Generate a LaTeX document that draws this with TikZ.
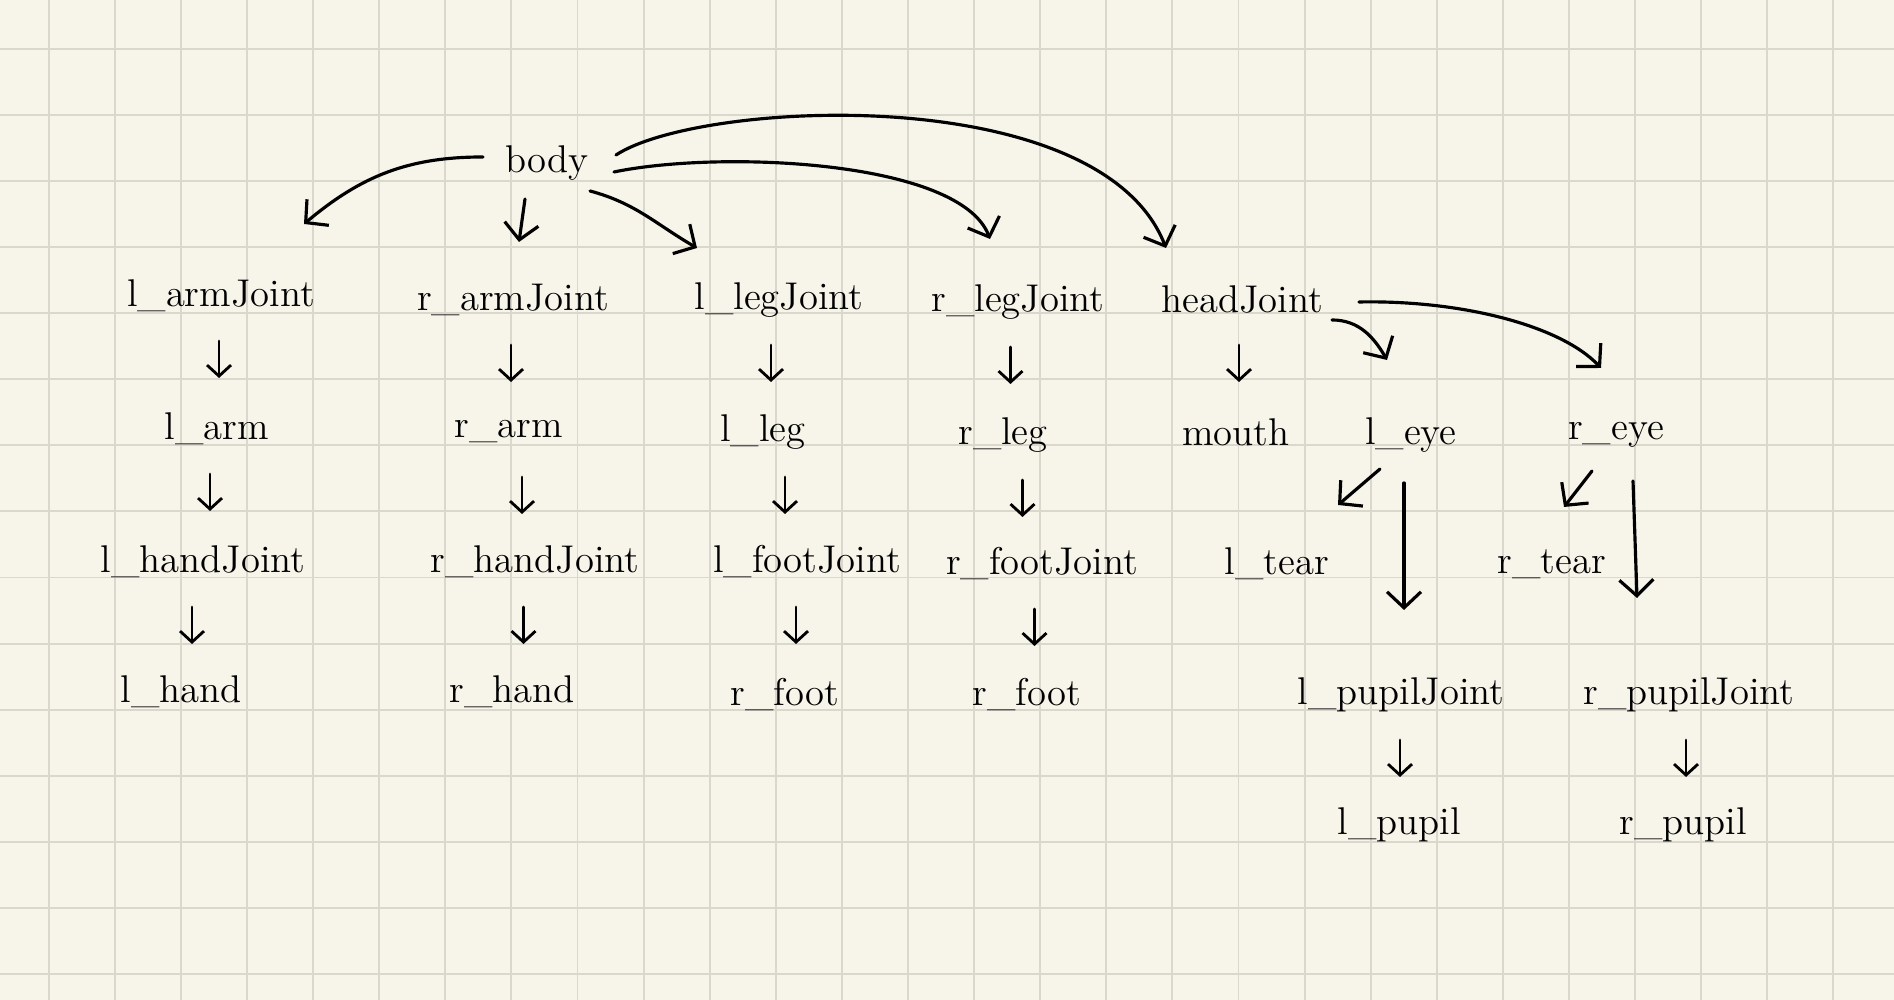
\documentclass[tikz,border=0pt]{standalone}
\usepackage{xcolor}
\definecolor{paper}{HTML}{F7F5EA}
\definecolor{gridline}{HTML}{DAD8CD}
\usepackage{tikz}
\usetikzlibrary{
  calc,
  arrows.meta
}
\tikzstyle{part}=[inner sep=0pt, font=\fontsize{11}{13}\selectfont]
\tikzstyle{bigarrow}=[-{Straight Barb[length=1.6mm,width=3.4mm]}, line width=0.9pt, line cap=round]
\tikzstyle{smallarrow}=[-{Straight Barb[length=1.1mm,width=2.4mm]}, line width=0.8pt, line cap=round]

\begin{document}
\begin{tikzpicture}
      \def\W{18.94};
      \def\H{10};
      \def\gap{0.661};
      \def\off{0.487};

      % 背景と方眼
      \fill[paper] (0,0) rectangle (\W,\H);
      \begin{scope}
        \clip (0,0) rectangle (\W,\H);
        \foreach \i in {0,...,27}
          \draw[gridline, line width=0.55pt] ({\off+\gap*\i},0) -- ++(0,\H);
        \foreach \j in {0,...,14}
          \draw[gridline, line width=0.55pt] (0,{\H-\off-\gap*\j}) -- ++(\W,0);
      \end{scope}
      \useasboundingbox (0,0) rectangle (\W,\H);

      % ルート
      \node[part] (body) at (5.47,8.37) {body};

      % 1段目
      \node[part] (lArmJ) at (2.21,7.04) {l\_armJoint};
      \node[part] (rArmJ) at (5.13,7.00) {r\_armJoint};
      \node[part] (lLegJ) at (7.79,7.00) {l\_legJoint};
      \node[part] (rLegJ) at (10.18,6.98) {r\_legJoint};
      \node[part] (headJ) at (12.42,7.00) {headJoint};

      % 2段目
      \node[part] (lArm) at (2.17,5.71) {l\_arm};
      \node[part] (rArm) at (5.09,5.68) {r\_arm};
      \node[part] (lLeg) at (7.63,5.68) {l\_leg};
      \node[part] (rLeg) at (10.03,5.65) {r\_leg};
      \node[part] (mouth) at (12.36,5.68) {mouth};
      \node[part] (lEye) at (14.11,5.65) {l\_eye};
      \node[part] (rEye) at (16.16,5.65) {r\_eye};

      % 3段目
      \node[part] (lHandJ) at (2.03,4.38) {l\_handJoint};
      \node[part] (rHandJ) at (5.35,4.38) {r\_handJoint};
      \node[part] (lFootJ) at (8.07,4.38) {l\_footJoint};
      \node[part] (rFootJ) at (10.42,4.36) {r\_footJoint};
      \node[part] (lTear) at (12.77,4.36) {l\_tear};
      \node[part] (rTear) at (15.52,4.36) {r\_tear};

      % 4段目
      \node[part] (lHand) at (1.81,3.08) {l\_hand};
      \node[part] (rHand) at (5.12,3.08) {r\_hand};
      \node[part] (rFootA) at (7.85,3.05) {r\_foot};
      \node[part] (rFootB) at (10.27,3.05) {r\_foot};
      \node[part] (lPupilJ) at (14.01,3.05) {l\_pupilJoint};
      \node[part] (rPupilJ) at (16.89,3.05) {r\_pupilJoint};

      % 5段目
      \node[part] (lPupil) at (13.99,1.75) {l\_pupil};
      \node[part] (rPupil) at (16.83,1.75) {r\_pupil};

      % 縦の短い矢印
      \foreach \a/\b in {lArmJ/lArm, lArm/lHandJ, lHandJ/lHand,
                         rArmJ/rArm, rArm/rHandJ, rHandJ/rHand,
                         lLegJ/lLeg, lLeg/lFootJ, lFootJ/rFootA,
                         rLegJ/rLeg, rLeg/rFootJ, rFootJ/rFootB,
                         headJ/mouth, lPupilJ/lPupil, rPupilJ/rPupil}
        \draw[smallarrow] ($(\a.center)!.5!(\a.center -| \b.center)$) ++(0,-0.45) -- ++(0,-0.37);

      % bodyからの矢印
      \draw[bigarrow] ([shift={(-0.64,0.06)}]body.center) to[out=180,in=40] ([shift={(0.83,0.72)}]lArmJ.center);
      \draw[bigarrow] ([shift={(-0.22,-0.36)}]body.center) -- ([shift={(0.06,0.58)}]rArmJ.center);
      \draw[bigarrow] ([shift={(0.43,-0.28)}]body.center) to[out=-15,in=150] ([shift={(-0.82,0.52)}]lLegJ.center);
      \draw[bigarrow] ([shift={(0.67,-0.09)}]body.center) .. controls (7.2,8.5) and (9.6,8.4) .. ([shift={(-0.28,0.63)}]rLegJ.center);
      \draw[bigarrow] ([shift={(0.69,0.08)}]body.center) .. controls (7.0,9.0) and (11.0,9.2) .. ([shift={(-0.76,0.52)}]headJ.center);

      % headJointからの矢印
      \draw[bigarrow] ([shift={(0.90,-0.20)}]headJ.center) to[out=0,in=120] ([shift={(-0.24,0.75)}]lEye.center);
      \draw[bigarrow] ([shift={(1.17,-0.02)}]headJ.center) .. controls (14.6,7.0) and (15.6,6.75) .. ([shift={(-0.15,0.67)}]rEye.center);

      % 目からの矢印
      \draw[bigarrow] ([shift={(-0.31,-0.34)}]lEye.center) -- ([shift={(0.61,0.59)}]lTear.center);
      \draw[bigarrow] ([shift={(-0.07,-0.48)}]lEye.center) -- ([shift={(0.03,0.85)}]lPupilJ.center);
      \draw[bigarrow] ([shift={(-0.24,-0.36)}]rEye.center) -- ([shift={(0.12,0.57)}]rTear.center);
      \draw[bigarrow] ([shift={(0.17,-0.46)}]rEye.center) -- ([shift={(-0.52,0.97)}]rPupilJ.center);
    \end{tikzpicture}
\end{document}
